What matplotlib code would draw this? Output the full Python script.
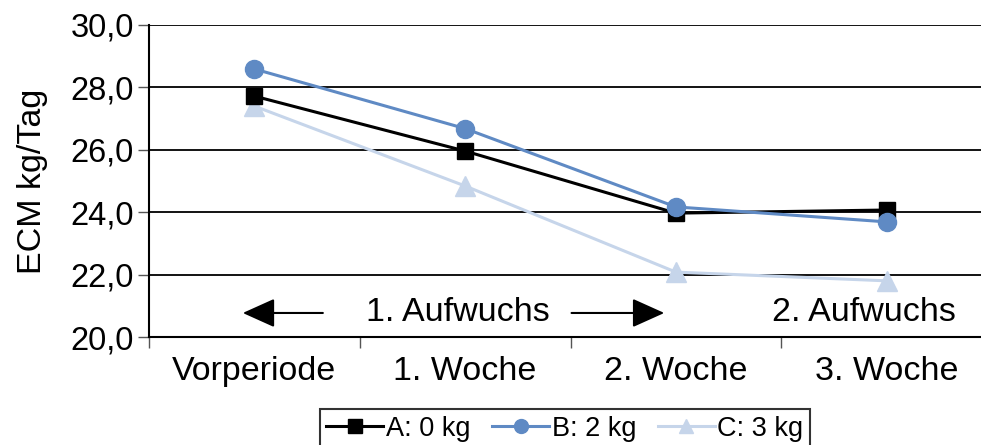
import matplotlib
matplotlib.use("Agg")
import matplotlib.pyplot as plt
from matplotlib.ticker import FixedLocator

plt.rcParams['font.family'] = ['Liberation Sans', 'DejaVu Sans']

perioden = ["Vorperiode", "1. Woche", "2. Woche", "3. Woche"]
ytick_labels = ["20,0", "22,0", "24,0", "26,0", "28,0", "30,0"]
ytick_werte = [20, 22, 24, 26, 28, 30]

a_0kg = [27.72, 25.96, 23.97, 24.07]
b_2kg = [28.59, 26.68, 24.17, 23.69]
c_3kg = [27.40, 24.84, 22.08, 21.80]

fig = plt.figure(figsize=(9.81, 4.45), dpi=100)
ax = fig.add_axes([149 / 981, 108 / 445, 843 / 981, 312 / 445])

x = range(len(perioden))
ax.plot(x, a_0kg, color="black", lw=2.2, marker="s", ms=12, label="A: 0 kg", zorder=5)
ax.plot(x, b_2kg, color="#5f8ac4", lw=2.2, marker="o", ms=13, label="B: 2 kg", zorder=6)
ax.plot(x, c_3kg, color="#c6d5ea", lw=2.2, marker="^", ms=14, label="C: 3 kg", zorder=4)

ax.set_xlim(-0.5, 3.5)
ax.set_ylim(20, 30)
ax.set_yticks(ytick_werte)
ax.set_yticklabels(ytick_labels, fontsize=23.5)
ax.yaxis.grid(True, color="black", lw=1.3)
ax.set_axisbelow(True)

ax.set_xticks(list(x))
ax.set_xticklabels(perioden, fontsize=24.5)
ax.tick_params(axis="x", which="major", length=0, pad=14)
ax.xaxis.set_minor_locator(FixedLocator([-0.5, 0.5, 1.5, 2.5, 3.5]))
ax.tick_params(axis="x", which="minor", length=8, color="#555555", width=1)
ax.tick_params(axis="y", length=8, width=1, color="#555555", pad=3)

for s in ["top", "right"]:
    ax.spines[s].set_visible(False)
ax.spines["left"].set_linewidth(1.5)
ax.spines["bottom"].set_linewidth(1.5)

ax.set_ylabel("ECM kg/Tag", fontsize=24.5, labelpad=16)

# Aufwuchs-Beschriftung mit Pfeilen
ax.text(0.964, 20.77, "1. Aufwuchs", fontsize=24.5, ha="center", va="center")
ax.text(2.89, 20.77, "2. Aufwuchs", fontsize=24.5, ha="center", va="center")
pfeil = dict(arrowstyle="-|>,head_length=1.0,head_width=0.45", color="black", lw=1.5,
             mutation_scale=20, shrinkA=0, shrinkB=0)
ax.annotate("", xy=(-0.055, 20.77), xytext=(0.325, 20.77), arrowprops=pfeil)
ax.annotate("", xy=(1.945, 20.77), xytext=(1.505, 20.77), arrowprops=pfeil)

leg = fig.legend(loc="upper center", bbox_to_anchor=(565 / 981, 36 / 445), ncol=3,
                 fontsize=19.5, frameon=True, fancybox=False, edgecolor="black",
                 handlelength=2.1, columnspacing=0.8, handletextpad=0.1,
                 borderpad=0.25, borderaxespad=0)
leg.get_frame().set_linewidth(1.5)
for h in leg.legend_handles:
    h.set_markersize(10)

fig.savefig("out.png", dpi=100)
